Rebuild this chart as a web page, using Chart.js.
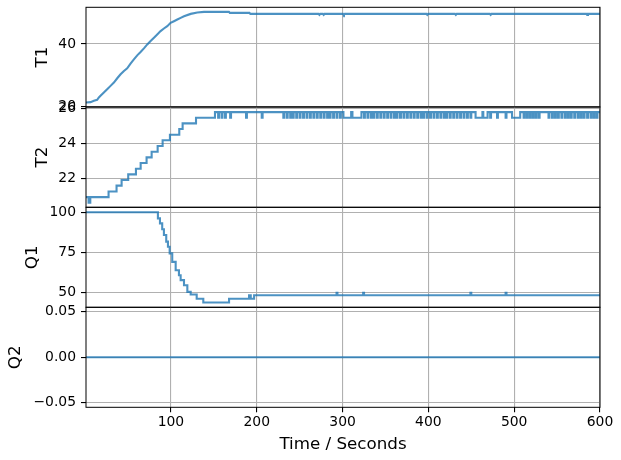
<!DOCTYPE html>
<html><head><meta charset="utf-8">
<script src="https://cdn.jsdelivr.net/npm/chart.js@4.4.1/dist/chart.umd.min.js"></script>
<style>
html,body{margin:0;padding:0;background:#fff;width:621px;height:460px;overflow:hidden;position:relative}
canvas{position:absolute;left:0;top:-50px;width:621px;height:560px}
</style></head><body>
<canvas id="c1" width="621" height="560"></canvas>
<canvas id="c2" width="621" height="560"></canvas>
<canvas id="c3" width="621" height="560"></canvas>
<canvas id="c4" width="621" height="560"></canvas>
<script>
// ---------------- data ----------------
const xTicks = [100, 200, 300, 400, 500, 600];
const xTitle = 'Time / Seconds';

// T1 (samples)
const t1Times = [1, 6.3, 10.2, 14.0, 16.0, 17.9, 21.8, 25.7, 29.6, 33.5, 37.4, 41.3, 45.2, 49.0, 52.9, 56.8, 60.7, 64.6, 68.5, 72.4, 76.3, 80.2, 84.0, 87.9, 91.8, 95.7, 99.6, 103.5, 107.4, 111.3, 115.2, 123.0, 130.7, 138.5, 167.6, 168.6, 191.5, 192.5, 272, 273, 274, 277, 278, 279, 300.6, 301.6, 302.6, 397.7, 398.7, 399.7, 431, 432, 433, 471.6, 472.6, 473.6, 584, 585, 586, 600];
const t1Values = [21.19, 21.29, 21.72, 22.04, 22.79, 23.32, 24.39, 25.46, 26.53, 27.6, 28.98, 30.27, 31.34, 32.19, 33.69, 35.07, 36.36, 37.43, 38.6, 39.88, 40.95, 42.02, 43.09, 44.16, 45.01, 45.76, 46.83, 47.36, 47.89, 48.43, 48.96, 49.71, 50.14, 50.35, 50.35, 50.03, 50.03, 49.71, 49.71, 49.39, 49.71, 49.71, 49.39, 49.71, 49.71, 49.39, 49.71, 49.71, 49.39, 49.71, 49.71, 49.39, 49.71, 49.71, 49.39, 49.71, 49.71, 49.39, 49.71, 49.71];
const t1Ticks = [20, 40];
const t1TickLabels = ['20', '40'];

// T2 (step changes)
const t2StepTimes = [1, 4, 6, 27.3, 36.6, 42.5, 50.2, 59.2, 64.7, 71.6, 77.5, 84.5, 90.3, 98.8, 109.7, 113.6, 129.2, 151.3];
const t2StepValues = [20.95, 20.63, 20.95, 21.27, 21.6, 21.92, 22.24, 22.56, 22.88, 23.2, 23.52, 23.85, 24.17, 24.49, 24.81, 25.13, 25.45, 25.77];
const t2High = 25.77;
const t2Low = 25.45;
const t2DipStarts = [155, 159, 163, 169, 187.5, 205.8,
  231, 235, 239, 242, 246, 250, 254, 258, 262, 266, 270, 274, 278, 282, 285, 289, 293, 297,
  301, 311.5,
  325, 329, 333, 336, 340, 344, 348, 352, 356, 360, 363, 367, 371, 375, 379, 383, 387, 391, 394, 398, 402, 406, 410, 414, 418, 421, 425, 429, 433, 437, 441, 445, 449,
  455, 464, 472, 480, 490, 497.5,
  511, 514.5, 518, 521.5, 525, 528.6,
  540, 544, 547.5, 551, 555, 559, 562.5, 566, 570, 574, 577.5, 581, 585, 589, 592.5, 596];
const t2DipEnds = [156, 160, 164, 170, 188.5, 206.8,
  232, 236, 240, 243, 247, 251, 255, 259, 263, 267, 271, 275, 279, 283, 286, 290, 294, 298,
  310, 322,
  326, 330, 334, 337, 341, 345, 349, 353, 357, 361, 364, 368, 372, 376, 380, 384, 388, 392, 395, 399, 403, 407, 411, 415, 419, 422, 426, 430, 434, 438, 442, 446, 450,
  463, 469, 473, 481, 491, 507,
  512, 515.5, 519, 522.5, 526, 529.6,
  541, 545, 548.5, 552, 556, 560, 563.5, 567, 571, 575, 578.5, 582, 586, 590, 593.5, 597];
const t2Ticks = [22, 24, 26];
const t2TickLabels = ['22', '24', '26'];

// Q1 (step changes)
const q1StepTimes = [1, 84.8, 87.2, 89.8, 91.8, 94.5, 96.5, 98.5, 101.5, 105.5, 109.3, 111.3, 115.2, 119.1, 123, 130, 137.7, 167.7, 191, 193, 196.9, 293, 294, 324, 325, 449, 450, 490, 491, 600];
const q1StepValues = [100, 96.2, 93.1, 89.4, 85.8, 81.7, 78.5, 74.4, 69.1, 63.9, 60.8, 57.7, 54.5, 50.4, 48.8, 46.1, 43.8, 46.1, 48.3, 46.1, 48.3, 49.8, 48.3, 49.8, 48.3, 49.8, 48.3, 49.8, 48.3, 48.3];
const q1Ticks = [50, 75, 100];
const q1TickLabels = ['50', '75', '100'];

// Q2
const q2Times = [1, 600];
const q2Values = [0, 0];
const q2Ticks = [-0.05, 0, 0.05];
const q2TickLabels = ['\u22120.05', '0.00', '0.05'];

// ---------------- build series ----------------
const zip = (ts, vs) => ts.map((t, i) => ({x: t, y: vs[i]}));
const t1Points = zip(t1Times, t1Values);
const t2Points = zip(t2StepTimes, t2StepValues);
t2DipStarts.forEach((s, i) => { t2Points.push({x: s, y: t2Low}); t2Points.push({x: t2DipEnds[i], y: t2High}); });
t2Points.push({x: 600, y: t2High});
const q1Points = zip(q1StepTimes, q1StepValues);
const q2Points = zip(q2Times, q2Values);

// ---------------- drawing ----------------
const OFF = 50, CH = 560, XH = 48;
const FONT = 'DejaVu Sans';
const LINE = 'rgba(31,119,180,0.8)';
const GRID = '#b0b0b0';

const frame = {
  id: 'frame',
  afterDatasetsDraw(chart) {
    const a = chart.chartArea, ctx = chart.ctx;
    ctx.save();
    ctx.strokeStyle = '#000';
    ctx.lineWidth = 1;
    ctx.strokeRect(a.left, a.top, a.right - a.left, a.bottom - a.top);
    ctx.restore();
  }
};

function panel(id, pts, stepped, yMin, yMax, ticks, labels, title, titlePad, top, bottom, last) {
  const labelOf = v => { const i = ticks.findIndex(t => Math.abs(t - v) < 1e-9); return i >= 0 ? labels[i] : ''; };
  new Chart(document.getElementById(id), {
    type: 'line',
    data: {datasets: [{data: pts, borderColor: LINE, borderWidth: 2.1, pointRadius: 0, fill: false, tension: 0, stepped: stepped ? 'before' : false}]},
    options: {
      responsive: false, animation: false, events: [],
      plugins: {legend: {display: false}, tooltip: {enabled: false}},
      layout: {padding: {left: 0, right: 21, top: OFF + top, bottom: CH - OFF - bottom - (last ? XH : 0)}},
      scales: {
        x: {
          type: 'linear', min: 1, max: 600,
          afterBuildTicks: ax => { ax.ticks = xTicks.map(v => ({value: v})); },
          afterFit: ax => { ax.height = last ? XH : 0; },
          grid: {color: GRID, lineWidth: 1.1, drawTicks: last, tickLength: 5, tickColor: '#000', tickWidth: 1.1},
          border: {display: false},
          ticks: {display: last, color: '#000', font: {family: FONT, size: 13.9}, padding: 2, maxRotation: 0, autoSkip: false},
          title: {display: last, text: xTitle, color: '#000', font: {family: FONT, size: 16.7}, padding: {top: 0, bottom: 1}}
        },
        y: {
          type: 'linear', min: yMin, max: yMax,
          afterBuildTicks: ax => { ax.ticks = ticks.map(v => ({value: v})); },
          afterFit: ax => { ax.width = 86; },
          grid: {color: GRID, lineWidth: 1.1, drawTicks: true, tickLength: 5, tickColor: '#000', tickWidth: 1.1},
          border: {display: false},
          ticks: {color: '#000', font: {family: FONT, size: 13.9}, padding: 5, callback: v => labelOf(v)},
          title: {display: true, text: title, color: '#000', font: {family: FONT, size: 16.7}, padding: {top: titlePad, bottom: 0}}
        }
      }
    },
    plugins: [frame]
  });
}

panel('c1', t1Points, false, 19.73, 51.83, t1Ticks, t1TickLabels, 'T1', 33, 7.3, 107, false);
panel('c2', t2Points, true, 20.37, 26.06, t2Ticks, t2TickLabels, 'T2', 33, 107, 207.3, false);
panel('c3', q1Points, true, 40.8, 103.1, q1Ticks, q1TickLabels, 'Q1', 22.8, 207.3, 307.3, false);
panel('c4', q2Points, false, -0.055, 0.055, q2Ticks, q2TickLabels, 'Q2', 5.4, 307.3, 407.3, true);
</script>
</body></html>
